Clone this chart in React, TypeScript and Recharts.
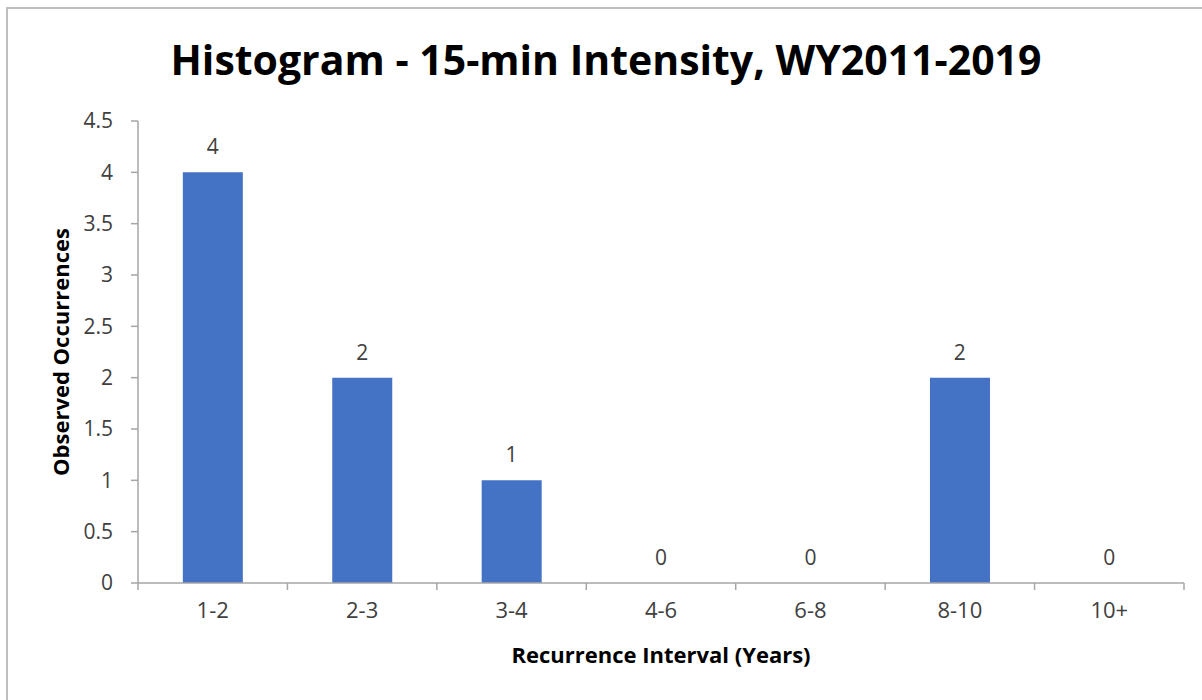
import React from 'react';
import { ComposedChart, Bar, Line, XAxis, YAxis, LabelList, Label } from 'recharts';

const intervals = ['1-2', '2-3', '3-4', '4-6', '6-8', '8-10', '10+'];
const occurrences = [4, 2, 1, 0, 0, 2, 0];
const yTicks = [0, 0.5, 1, 1.5, 2, 2.5, 3, 3.5, 4, 4.5];

const data = intervals.map((interval, i) => ({ interval, count: occurrences[i] }));

const CHART_W = 1196;
const CHART_H = 693;
const MARGIN = { top: 112, right: 20, bottom: 79, left: 0 };
const Y_AXIS_W = 130;
const PLOT_W = CHART_W - MARGIN.left - MARGIN.right - Y_AXIS_W;
const BAND = PLOT_W / intervals.length;

const AXIS = '#A6A6A6';
const FONT = '"Open Sans", sans-serif';

// Excel-style ticks: marks at the band edges, label at the band centre
function XTick(props: any) {
  const { x, y, payload, index } = props;
  const half = BAND / 2;
  return (
    <g>
      <line x1={x - half} y1={y - 8} x2={x - half} y2={y - 1} stroke={AXIS} strokeWidth={1.5} />
      {index === intervals.length - 1 && (
        <line x1={x + half} y1={y - 8} x2={x + half} y2={y - 1} stroke={AXIS} strokeWidth={1.5} />
      )}
      <text x={x} y={y + 27} textAnchor="middle" fill="#404040" fontSize={22} fontFamily={FONT}>
        {payload.value}
      </text>
    </g>
  );
}

export default function App() {
  return (
    <div
      style={{
        position: 'absolute',
        left: 6,
        top: 7,
        width: 1200,
        height: 700,
        borderTop: '2px solid #BFBFBF',
        borderLeft: '2px solid #BFBFBF',
        boxSizing: 'border-box',
        background: '#fff',
      }}
    >
      <div
        style={{
          position: 'absolute',
          left: 0,
          width: CHART_W,
          top: 22,
          textAlign: 'center',
          fontFamily: FONT,
          fontWeight: 700,
          fontSize: 41,
          color: '#000',
        }}
      >
        Histogram - 15-min Intensity, WY2011-2019
      </div>
      <ComposedChart width={CHART_W} height={CHART_H} data={data} margin={MARGIN} barCategoryGap="30%">
        <XAxis
          dataKey="interval"
          stroke={AXIS}
          strokeWidth={1.5}
          tickLine={false}
          tick={<XTick />}
          interval={0}
          height={40}
        >
          <Label
            value="Recurrence Interval (Years)"
            position="insideBottom"
            offset={-40}
            fill="#000"
            fontSize={22}
            fontWeight={700}
            fontFamily={FONT}
          />
        </XAxis>
        <YAxis
          domain={[0, 4.5]}
          ticks={yTicks}
          width={Y_AXIS_W}
          stroke={AXIS}
          strokeWidth={1.5}
          tickSize={7}
          tickMargin={18}
          tick={{ fill: '#404040', fontSize: 21, fontFamily: FONT }}
          interval={0}
        >
          <Label
            value="Observed Occurrences"
            angle={-90}
            position="insideLeft"
            offset={53}
            style={{ textAnchor: 'middle' }}
            fill="#000"
            fontSize={22}
            fontWeight={700}
            fontFamily={FONT}
          />
        </YAxis>
        <Bar dataKey="count" fill="#4472C4" isAnimationActive={false} />
        {/* invisible line carries the value labels so zero bars get one too */}
        <Line
          dataKey="count"
          stroke="none"
          dot={false}
          activeDot={false}
          legendType="none"
          isAnimationActive={false}
        >
          <LabelList
            dataKey="count"
            position="top"
            offset={18}
            fill="#404040"
            fontSize={21}
            fontFamily={FONT}
          />
        </Line>
      </ComposedChart>
    </div>
  );
}
